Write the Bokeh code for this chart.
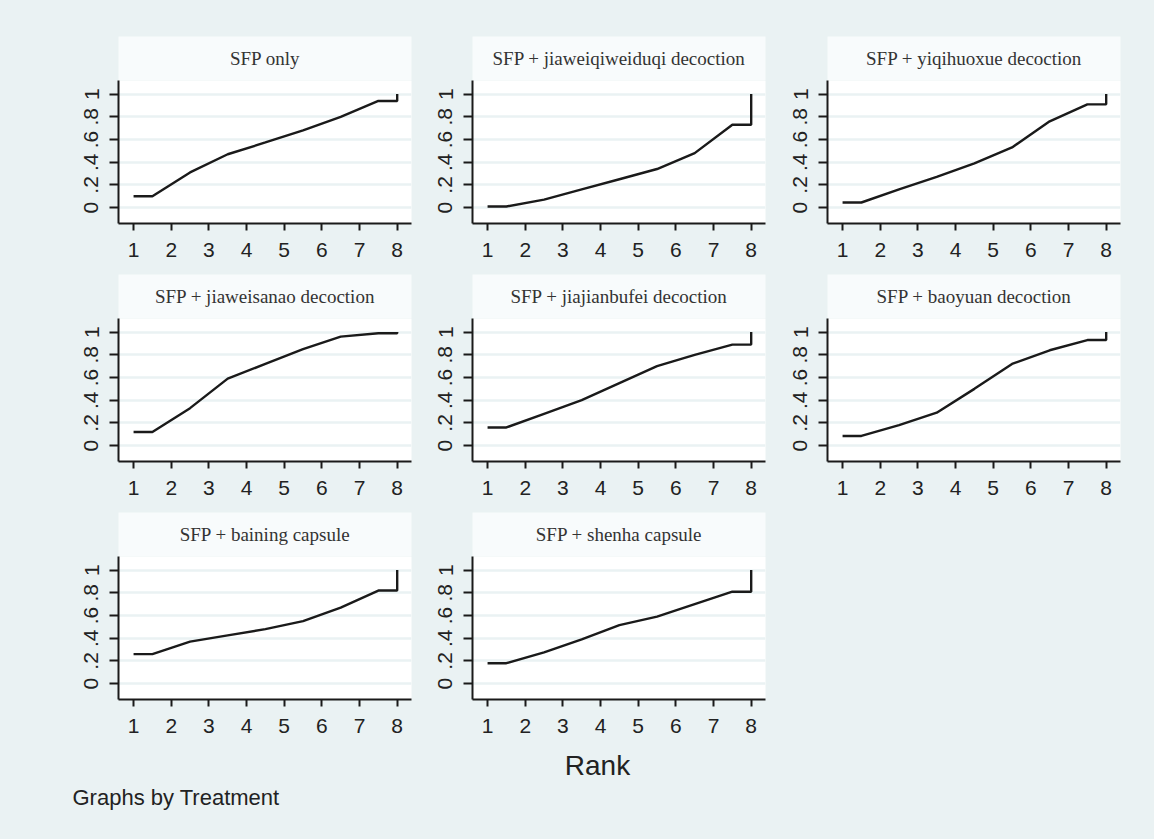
from bokeh.plotting import figure
from bokeh.layouts import column, row
from bokeh.models import Range1d, FixedTicker, GlobalInlineStyleSheet
from bokeh.core.properties import value
from bokeh.embed import file_html
from bokeh.resources import INLINE

# ---------------- data ----------------
treatments = [
    "SFP only",
    "SFP + jiaweiqiweiduqi decoction",
    "SFP + yiqihuoxue decoction",
    "SFP + jiaweisanao decoction",
    "SFP + jiajianbufei decoction",
    "SFP + baoyuan decoction",
    "SFP + baining capsule",
    "SFP + shenha capsule",
]
ranks = [1, 2, 3, 4, 5, 6, 7, 8]
# cumulative ranking probabilities for ranks 1..7 (rank 8 = 1)
cum_sfp_only = [0.10, 0.31, 0.47, 0.574, 0.68, 0.80, 0.94]
cum_jiaweiqiweiduqi = [0.01, 0.07, 0.16, 0.25, 0.34, 0.48, 0.73]
cum_yiqihuoxue = [0.045, 0.16, 0.27, 0.39, 0.53, 0.76, 0.91]
cum_jiaweisanao = [0.12, 0.33, 0.59, 0.72, 0.85, 0.96, 0.99]
cum_jiajianbufei = [0.16, 0.28, 0.40, 0.55, 0.70, 0.80, 0.89]
cum_baoyuan = [0.085, 0.18, 0.29, 0.50, 0.72, 0.84, 0.93]
cum_baining = [0.26, 0.37, 0.425, 0.48, 0.55, 0.67, 0.82]
cum_shenha = [0.18, 0.275, 0.39, 0.515, 0.59, 0.70, 0.81]
cum_probs = [cum_sfp_only, cum_jiaweiqiweiduqi, cum_yiqihuoxue, cum_jiaweisanao,
             cum_jiajianbufei, cum_baoyuan, cum_baining, cum_shenha]
y_ticks = [0, 0.2, 0.4, 0.6, 0.8, 1]
y_tick_labels = ["0", ".2", ".4", ".6", ".8", "1"]
x_title = "Rank"
note = "Graphs by Treatment"

# ---------------- style ----------------
BG = "#EAF2F3"
TITLE_BG = "#F8FBFC"
INK = "#1a1a1a"
FRAME_W, FRAME_H, TITLE_H = 293, 143, 44
col_left = [118, 50, 50]
col_right = [11, 12, 32]


def title_fig(text, ci, top):
    p = figure(frame_width=FRAME_W, frame_height=TITLE_H,
               min_border_left=col_left[ci], min_border_right=col_right[ci],
               min_border_top=top, min_border_bottom=0,
               x_range=Range1d(0, 1), y_range=Range1d(0, 1),
               x_axis_type=None, y_axis_type=None,
               toolbar_location=None, output_backend="svg",
               background_fill_color=TITLE_BG, border_fill_color=BG,
               outline_line_color=None)
    p.grid.visible = False
    p.text(x=[0.5], y=[0.5], text=[text], text_font=value("Liberation Serif"),
           text_font_size="19px", text_align="center", text_baseline="middle",
           text_color="#333333")
    return p


def main_fig(i, ci):
    p = figure(frame_width=FRAME_W, frame_height=FRAME_H,
               min_border_left=col_left[ci], min_border_right=col_right[ci],
               min_border_top=0, min_border_bottom=51,
               x_range=Range1d(0.6, 8.38), y_range=Range1d(-0.14, 1.12),
               toolbar_location=None, output_backend="svg",
               background_fill_color="white", border_fill_color=BG,
               outline_line_color=None)
    c = cum_probs[i]
    xs = [ranks[0]] + [r + 0.5 for r in ranks[:-1]] + [ranks[-1], ranks[-1]]
    ys = [c[0]] + list(c) + [c[-1], 1.0]
    p.line(xs, ys, line_color=INK, line_width=2.4)

    p.xgrid.visible = False
    p.ygrid.ticker = FixedTicker(ticks=y_ticks)
    p.ygrid.grid_line_color = BG
    p.ygrid.grid_line_width = 2.5

    p.xaxis.ticker = FixedTicker(ticks=ranks)
    p.yaxis.ticker = FixedTicker(ticks=y_ticks)
    p.yaxis.major_label_overrides = {t: l for t, l in zip(y_ticks, y_tick_labels)}
    p.yaxis.major_label_orientation = "vertical"
    for ax in (p.xaxis, p.yaxis):
        ax.axis_line_color = INK
        ax.axis_line_width = 2
        ax.major_tick_line_color = INK
        ax.major_tick_line_width = 2
        ax.major_tick_in = 0
        ax.minor_tick_line_color = None
        ax.major_label_text_font = "Liberation Sans"
        ax.major_label_text_font_size = "21px"
        ax.major_label_text_color = "#222222"
    p.xaxis.major_tick_out = 7
    p.yaxis.major_tick_out = 9
    p.xaxis.major_label_standoff = 12
    p.yaxis.major_label_standoff = 11
    return p


rows = []
for r in range(3):
    cells = []
    for ci in range(3):
        i = r * 3 + ci
        if i < len(treatments):
            t = title_fig(treatments[i], ci, 36 if r == 0 else 0)
            m = main_fig(i, ci)
            cells.append(column(t, m))
        else:
            e = figure(width=col_left[ci] + FRAME_W + col_right[ci], height=238,
                       x_axis_type=None, y_axis_type=None,
                       min_border=0, toolbar_location=None, output_backend="svg",
                       background_fill_color=BG, border_fill_color=BG,
                       outline_line_color=None)
            e.grid.visible = False
            cells.append(e)
    rows.append(row(*cells))

TOTAL_W = sum(col_left) + 3 * FRAME_W + sum(col_right)
bottom = figure(frame_width=TOTAL_W, frame_height=87, x_range=Range1d(0, TOTAL_W),
                y_range=Range1d(0, 87), x_axis_type=None, y_axis_type=None,
                min_border=0, toolbar_location=None, output_backend="svg",
                background_fill_color=BG, border_fill_color=BG,
                outline_line_color=None)
bottom.grid.visible = False
bottom.text(x=[597], y=[72], text=[x_title], text_font=value("Liberation Sans"),
            text_font_size="28px", text_align="center", text_baseline="middle",
            text_color="#222222")
bottom.text(x=[72], y=[40], text=[note], text_font=value("Liberation Sans"),
            text_font_size="22px", text_align="left", text_baseline="middle",
            text_color="#222222")

layout = column(*rows, bottom)
layout.stylesheets = [GlobalInlineStyleSheet(css="html, body { background-color: #EAF2F3; }")]

open("out.html", "w").write(file_html(layout, INLINE))
